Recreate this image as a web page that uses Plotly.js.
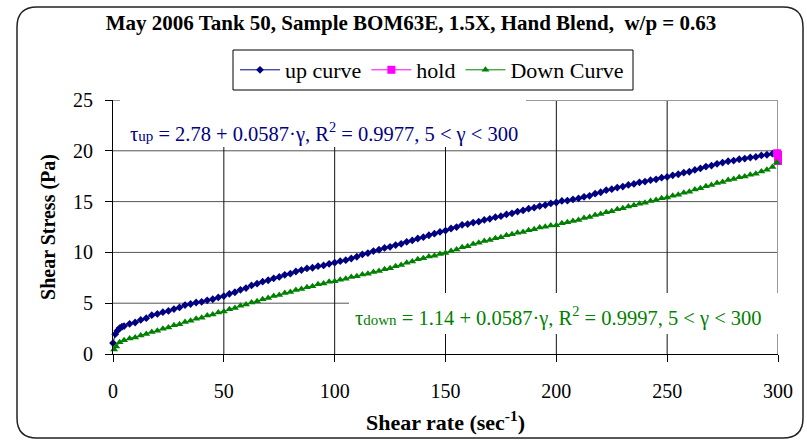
<!DOCTYPE html>
<html>
<head>
<meta charset="utf-8">
<script src="https://cdn.plot.ly/plotly-3.0.1.min.js"></script>
<style>html,body{margin:0;padding:0;background:#fff;}#chart{width:807px;height:442px;}</style>
</head>
<body>
<div id="chart"></div>
<script>
// ---- data ----
const upX = [0,1,2,3,4,5,7.5,10,12.5,15,17.5,20,22.5,25,27.5,30,32.5,35,37.5,40,42.5,45,47.5,50,52.5,55,57.5,60,62.5,65,67.5,70,72.5,75,77.5,80,82.5,85,87.5,90,92.5,95,97.5,100,102.5,105,107.5,110,112.5,115,117.5,120,122.5,125,127.5,130,132.5,135,137.5,140,142.5,145,147.5,150,152.5,155,157.5,160,162.5,165,167.5,170,172.5,175,177.5,180,182.5,185,187.5,190,192.5,195,197.5,200,202.5,205,207.5,210,212.5,215,217.5,220,222.5,225,227.5,230,232.5,235,237.5,240,242.5,245,247.5,250,252.5,255,257.5,260,262.5,265,267.5,270,272.5,275,277.5,280,282.5,285,287.5,290,292.5,295,297.5,300];
const upY = [1.08,1.95,2.3,2.55,2.68,2.75,2.97,3.1,3.35,3.53,3.82,3.94,4.12,4.24,4.42,4.58,4.82,4.92,5.07,5.14,5.28,5.39,5.57,5.7,5.92,6.08,6.32,6.49,6.75,6.92,7.12,7.26,7.45,7.59,7.79,7.91,8.12,8.26,8.42,8.49,8.64,8.72,8.88,8.99,9.14,9.23,9.4,9.57,9.8,9.93,10.13,10.26,10.44,10.55,10.72,10.84,11.04,11.18,11.37,11.5,11.69,11.84,12.02,12.15,12.35,12.49,12.71,12.79,12.94,13.02,13.2,13.3,13.47,13.57,13.74,13.85,14.02,14.13,14.3,14.4,14.56,14.66,14.82,14.91,15.07,15.1,15.21,15.31,15.47,15.57,15.78,15.92,16.12,16.22,16.38,16.48,16.64,16.74,16.9,16.97,17.11,17.19,17.35,17.43,17.59,17.69,17.85,17.94,18.12,18.27,18.45,18.55,18.72,18.84,18.97,19.04,19.17,19.23,19.34,19.4,19.54,19.61,19.72,19.76];
const holdX = [299.6,300,300,300,300];
const holdY = [19.76,19.6,19.4,19.2,19.0];
const downX = [0.5,1.5,3,5,7.5,10,12.5,15,17.5,20,22.5,25,27.5,30,32.5,35,37.5,40,42.5,45,47.5,50,52.5,55,57.5,60,62.5,65,67.5,70,72.5,75,77.5,80,82.5,85,87.5,90,92.5,95,97.5,100,102.5,105,107.5,110,112.5,115,117.5,120,122.5,125,127.5,130,132.5,135,137.5,140,142.5,145,147.5,150,152.5,155,157.5,160,162.5,165,167.5,170,172.5,175,177.5,180,182.5,185,187.5,190,192.5,195,197.5,200,202.5,205,207.5,210,212.5,215,217.5,220,222.5,225,227.5,230,232.5,235,237.5,240,242.5,245,247.5,250,252.5,255,257.5,260,262.5,265,267.5,270,272.5,275,277.5,280,282.5,285,287.5,290,292.5,295,297.5,299.5];
const downY = [0.45,0.75,1.15,1.35,1.52,1.63,1.82,1.96,2.17,2.28,2.49,2.61,2.82,2.94,3.15,3.28,3.47,3.58,3.78,3.9,4.09,4.19,4.4,4.53,4.74,4.86,5.06,5.18,5.38,5.5,5.7,5.81,6.0,6.1,6.3,6.4,6.58,6.68,6.86,6.94,7.1,7.16,7.32,7.4,7.57,7.66,7.82,7.9,8.07,8.16,8.34,8.45,8.64,8.76,8.97,9.1,9.32,9.43,9.6,9.68,9.84,9.93,10.14,10.28,10.5,10.61,10.82,10.94,11.12,11.22,11.4,11.5,11.68,11.78,11.94,12.02,12.18,12.27,12.44,12.53,12.64,12.68,12.88,12.96,13.1,13.2,13.38,13.48,13.67,13.78,13.96,14.06,14.24,14.35,14.53,14.63,14.8,14.88,15.05,15.15,15.32,15.4,15.58,15.68,15.87,15.98,16.18,16.31,16.51,16.63,16.82,16.94,17.12,17.22,17.4,17.48,17.65,17.75,17.97,18.13,18.4,18.85];
const xTicks = [0,50,100,150,200,250,300];
const yTicks = [0,5,10,15,20,25];

// ---- layout helpers ----
const L = 113, R = 778, T = 100, B = 354;
const XMAX = 300, YMAX = 25;
const px = p => (p - L) / (R - L);          // pixel -> paper x
const py = p => (B - p) / (B - T);          // pixel -> paper y
const dx = p => (p - L) / (R - L) * XMAX;   // pixel -> data x
const dy = p => (B - p) / (B - T) * YMAX;   // pixel -> data y

const FONT = 'Liberation Serif, Times New Roman, serif';

const traces = [
  {x: upX, y: upY, name: 'up curve', type: 'scatter', mode: 'lines+markers', cliponaxis: false,
   line: {color: '#000080', width: 1}, marker: {symbol: 'diamond', size: 6, color: '#000080'}},
  {x: holdX, y: holdY, name: 'hold', type: 'scatter', mode: 'lines+markers', cliponaxis: false,
   line: {color: '#FF00FF', width: 1}, marker: {symbol: 'square', size: 8, color: '#FF00FF'}},
  {x: downX, y: downY, name: 'Down Curve', type: 'scatter', mode: 'lines+markers', cliponaxis: false,
   line: {color: '#008000', width: 1}, marker: {symbol: 'triangle-up', size: 7, color: '#008000'}}
];

// rounded outer border
const bl = px(17), br = px(803), bt = py(7), bb = py(438);
const rx = 20 / (R - L), ry = 20 / (B - T);
const borderPath = `M ${bl+rx},${bt} L ${br-rx},${bt} Q ${br},${bt} ${br},${bt-ry} L ${br},${bb+ry} Q ${br},${bb} ${br-rx},${bb} L ${bl+rx},${bb} Q ${bl},${bb} ${bl},${bb+ry} L ${bl},${bt-ry} Q ${bl},${bt} ${bl+rx},${bt} Z`;

const shapes = [
  {type: 'path', xref: 'paper', yref: 'paper', path: borderPath,
   line: {color: '#222', width: 1.5}, fillcolor: 'rgba(0,0,0,0)', layer: 'below'},
  // legend frame
  {type: 'rect', xref: 'paper', yref: 'paper', x0: px(233), x1: px(633), y0: py(90), y1: py(50),
   line: {color: '#000', width: 1}, fillcolor: 'rgba(0,0,0,0)', layer: 'below'}
];
yTicks.filter(v => v > 0 && v < YMAX).forEach(v => shapes.push(
  {type: 'line', xref: 'x', yref: 'y', x0: 0, x1: XMAX, y0: v, y1: v, line: {color: '#555', width: 1}, layer: 'below'}));
xTicks.filter(v => v > 0 && v < XMAX).forEach(v => shapes.push(
  {type: 'line', xref: 'x', yref: 'y', x0: v, x1: v, y0: 0, y1: YMAX, line: {color: '#111', width: 1}, layer: 'below'}));
shapes.push(
  {type: 'line', xref: 'x', yref: 'y', x0: 0, x1: XMAX, y0: YMAX, y1: YMAX, line: {color: '#999', width: 2}, layer: 'below'},
  {type: 'line', xref: 'x', yref: 'y', x0: XMAX, x1: XMAX, y0: 0, y1: YMAX, line: {color: '#999', width: 2}, layer: 'below'},
  {type: 'rect', xref: 'x', yref: 'y', x0: dx(120), x1: dx(526), y0: dy(147), y1: dy(98),
   line: {width: 0}, fillcolor: '#fff', layer: 'below'},
  {type: 'rect', xref: 'x', yref: 'y', x0: dx(349), x1: dx(790), y0: dy(334), y1: dy(293),
   line: {width: 0}, fillcolor: '#fff', layer: 'below'}
);

const layout = {
  width: 807, height: 442,
  margin: {l: L, r: 807 - R, t: T, b: 442 - B, pad: 0},
  paper_bgcolor: '#ffffff', plot_bgcolor: '#ffffff',
  font: {family: FONT, size: 20, color: '#000'},
  title: {text: '<b>May 2006 Tank 50, Sample BOM63E, 1.5X, Hand Blend,  w/p = 0.63</b>',
          font: {family: FONT, size: 21, color: '#000'},
          x: 411 / 807, xanchor: 'center', xref: 'container',
          y: 1 - 23 / 442, yanchor: 'middle', yref: 'container'},
  showlegend: true,
  legend: {orientation: 'h', x: px(235), xanchor: 'left', y: py(70), yanchor: 'middle',
           borderwidth: 0, bgcolor: 'rgba(0,0,0,0)',
           font: {family: FONT, size: 22, color: '#000'}, itemwidth: 40, tracegroupgap: 0},
  xaxis: {range: [0, XMAX], tickvals: xTicks, ticktext: xTicks.map(String),
          showgrid: false, zeroline: false,
          showline: true, linecolor: '#000', linewidth: 1,
          ticks: 'outside', ticklen: 7, tickcolor: '#000', ticklabelstandoff: 12,
          tickfont: {family: FONT, size: 20, color: '#000'},
          title: {text: '<b>Shear rate (sec<sup>-1</sup>)</b>', font: {family: FONT, size: 22, color: '#000'}, standoff: 13},
          automargin: false, fixedrange: true},
  yaxis: {range: [0, YMAX], tickvals: yTicks, ticktext: yTicks.map(String),
          showgrid: false, zeroline: false,
          showline: true, linecolor: '#000', linewidth: 1,
          ticks: 'outside', ticklen: 7, tickcolor: '#000', ticklabelstandoff: 8,
          tickfont: {family: FONT, size: 20, color: '#000'},
          title: {text: '<b>Shear Stress (Pa)</b>', font: {family: FONT, size: 20, color: '#000'}, standoff: 12},
          automargin: false, fixedrange: true},
  shapes: shapes,
  annotations: [
    {xref: 'paper', yref: 'paper', x: px(128), y: py(132), xanchor: 'left', yanchor: 'middle', showarrow: false,
     text: 'τ<span style="font-size:15px">up</span> = 2.78 + 0.0587·γ, R<sup>2</sup> = 0.9977, 5 &lt; γ &lt; 300',
     font: {family: FONT, size: 20.5, color: '#000080'}},
    {xref: 'paper', yref: 'paper', x: px(353), y: py(316), xanchor: 'left', yanchor: 'middle', showarrow: false,
     text: 'τ<span style="font-size:15px">down</span> = 1.14 + 0.0587·γ, R<sup>2</sup> = 0.9997, 5 &lt; γ &lt; 300',
     font: {family: FONT, size: 20.5, color: '#008000'}}
  ]
};

Plotly.newPlot('chart', traces, layout, {displayModeBar: false, staticPlot: true});
</script>
</body>
</html>
